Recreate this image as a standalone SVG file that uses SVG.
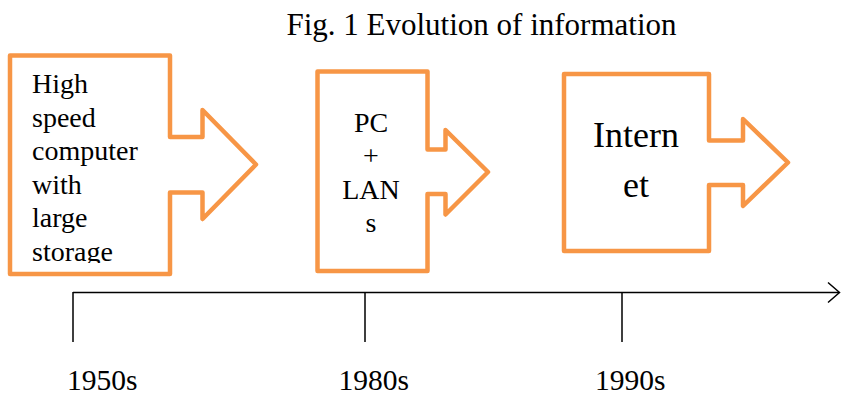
<svg xmlns="http://www.w3.org/2000/svg" width="841" height="396" viewBox="0 0 841 396">
<style>
.shape{fill:#fff;stroke:#F79646;stroke-width:4.5;stroke-linejoin:round}
.t{font-family:"Liberation Serif","Times New Roman",serif;fill:#000}
.axis{stroke:#000;stroke-width:1.5;fill:none}
</style>
<defs>
<clipPath id="c1"><rect x="12" y="58" width="156" height="205"/></clipPath>
</defs>
<rect width="841" height="396" fill="#fff"/>
<text class="t" x="481.5" y="35" font-size="31" text-anchor="middle">Fig. 1 Evolution of information</text>
<g id="node-1950s">
<path class="shape" d="M10,55.5 H170 V137 H202.5 V110 L256,164.5 L202.5,219 V192.5 H170 V274 H10 Z"/>
<g clip-path="url(#c1)" class="t" font-size="28">
<text x="32" y="93.3">High</text>
<text x="32" y="126.8">speed</text>
<text x="32" y="160.3">computer</text>
<text x="32" y="193.8">with</text>
<text x="32" y="227.3">large</text>
<text x="32" y="260.8">storage</text>
</g>
</g>
<g id="node-1980s">
<path class="shape" d="M317.5,71.5 H427.5 V149.5 H445.5 V130 L488,172 L445.5,214.5 V194 H427.5 V271 H317.5 Z"/>
<g class="t" font-size="28" text-anchor="middle">
<text x="371" y="131.7">PC</text>
<text x="371" y="165.2">+</text>
<text x="371" y="198.7">LAN</text>
<text x="371" y="232.2">s</text>
</g>
</g>
<g id="node-1990s">
<path class="shape" d="M564,74 H709 V140.5 H743 V119 L788,162.5 L743,206 V185 H709 V251 H564 Z"/>
<g class="t" font-size="36" text-anchor="middle">
<text x="636" y="147.3">Intern</text>
<text x="636" y="196.7">et</text>
</g>
</g>
<g id="connectors">
<path class="axis" d="M73,292.5 H839"/>
<path class="axis" d="M828,282.5 L839.5,292.5 L828,302.5"/>
<path class="axis" d="M73,292 V342 M365,292 V342 M622,292 V342"/>
</g>
<g id="labels" class="t" font-size="29.5">
<text x="67" y="390">1950s</text>
<text x="338.5" y="390">1980s</text>
<text x="595" y="390">1990s</text>
</g>
</svg>
